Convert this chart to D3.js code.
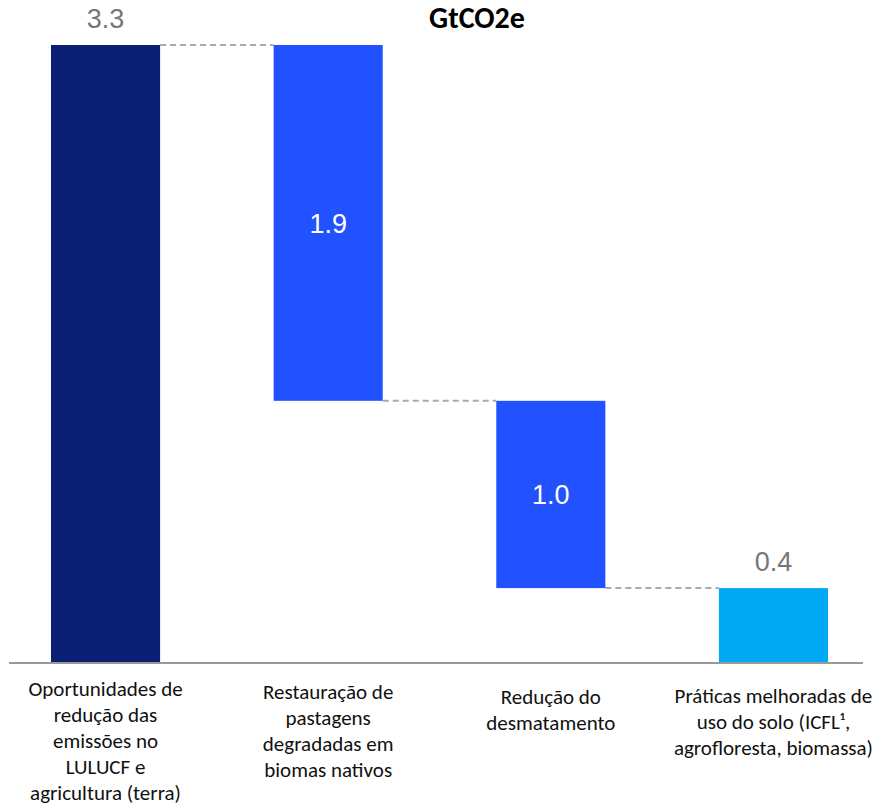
<!DOCTYPE html>
<meta charset="utf-8">
<script src="https://d3js.org/d3.v7.min.js"></script>
<style>
  body { margin: 0; background: #fff; }
</style>
<div id="chart"></div>
<script>

// categories (lines of each label) and values
var categories = ["lulucf", "pastagens", "desmatamento", "praticas"];
var categoryLines = [
  ["Oportunidades de", "redução das", "emissões no", "LULUCF e", "agricultura (terra)"],
  ["Restauração de", "pastagens", "degradadas em", "biomas nativos"],
  ["Redução do", "desmatamento"],
  ["Práticas melhoradas de", "uso do solo (ICFL¹,", "agrofloresta, biomassa)"]
];
var values = [3.3, 1.9, 1.0, 0.4];
var kinds = ["total", "step", "step", "last"];
var valueLabels = ["3.3", "1.9", "1.0", "0.4"];

var width = 888, height = 809;
var baseY = 663, topY = 45;

var svg = d3.select("#chart")
  .append("svg")
    .attr("width", width)
    .attr("height", height);

var x = d3.scaleBand()
  .domain(categories)
  .range([51, 828])
  .paddingInner(0.51)
  .paddingOuter(0);

var y = d3.scaleLinear()
  .domain([0, 3.3])
  .range([baseY, topY]);

// waterfall: compute start / end of each bar
var data = [];
var running = 0;
categories.forEach(function(c, i) {
  var d = {key: c, value: values[i], label: valueLabels[i], kind: kinds[i]};
  if (i === 0) { d.y0 = 0; d.y1 = values[i]; running = values[i]; }
  else { d.y1 = running; d.y0 = running - values[i]; running = d.y0; }
  data.push(d);
});

var colors = {total: "#0a1f74", step: "#2251ff", last: "#00a9f4"};

// dashed connectors
for (var i = 0; i < data.length - 1; i++) {
  var level = data[i].kind === "total" ? data[i].y1 : data[i].y0;
  svg.append("line")
    .attr("x1", x(data[i].key) + x.bandwidth())
    .attr("x2", x(data[i + 1].key))
    .attr("y1", y(level))
    .attr("y2", y(level))
    .attr("stroke", "#aaaaaa")
    .attr("stroke-width", 2)
    .attr("stroke-dasharray", "6,4");
}

// bars
svg.selectAll("rect.bar")
  .data(data)
  .enter()
  .append("rect")
    .attr("class", "bar")
    .attr("x", function(d) { return x(d.key); })
    .attr("y", function(d) { return y(d.y1); })
    .attr("width", x.bandwidth())
    .attr("height", function(d) { return y(d.y0) - y(d.y1); })
    .attr("fill", function(d) { return colors[d.kind]; });

// baseline
svg.append("line")
  .attr("x1", 9).attr("x2", 863)
  .attr("y1", y(0)).attr("y2", y(0))
  .attr("stroke", "#999")
  .attr("stroke-width", 2);

// value labels
svg.selectAll("text.val")
  .data(data)
  .enter()
  .append("text")
    .attr("class", "val")
    .attr("x", function(d) { return x(d.key) + x.bandwidth() / 2; })
    .attr("y", function(d) {
      if (d.kind === "step") return (y(d.y0) + y(d.y1)) / 2 + 10;
      return y(d.y1) - 17;
    })
    .attr("text-anchor", "middle")
    .attr("font-family", "Liberation Sans, Arial, sans-serif")
    .attr("font-size", 27)
    .attr("fill", function(d) { return d.kind === "step" ? "#fff" : "#777"; })
    .text(function(d) { return d.label; });

// title
svg.append("text")
  .attr("x", 477)
  .attr("y", 28)
  .attr("text-anchor", "middle")
  .attr("font-family", "Calibri, Carlito, Lato, sans-serif")
  .attr("font-weight", "bold")
  .attr("font-size", 30)
  .attr("fill", "#000")
  .text("GtCO2e");

// category labels
var labelShift = [0, 3, 8, 7];
var cat = svg.selectAll("text.cat")
  .data(data)
  .enter()
  .append("text")
    .attr("class", "cat")
    .attr("text-anchor", "middle")
    .attr("font-family", "Calibri, Carlito, Lato, sans-serif")
    .attr("font-size", 21)
    .attr("fill", "#111");

cat.each(function(d, i) {
  var t = d3.select(this);
  var cx = x(d.key) + x.bandwidth() / 2;
  categoryLines[i].forEach(function(line, j) {
    t.append("tspan")
      .attr("x", cx)
      .attr("y", 696 + labelShift[i] + j * 26)
      .text(line);
  });
});

</script>
